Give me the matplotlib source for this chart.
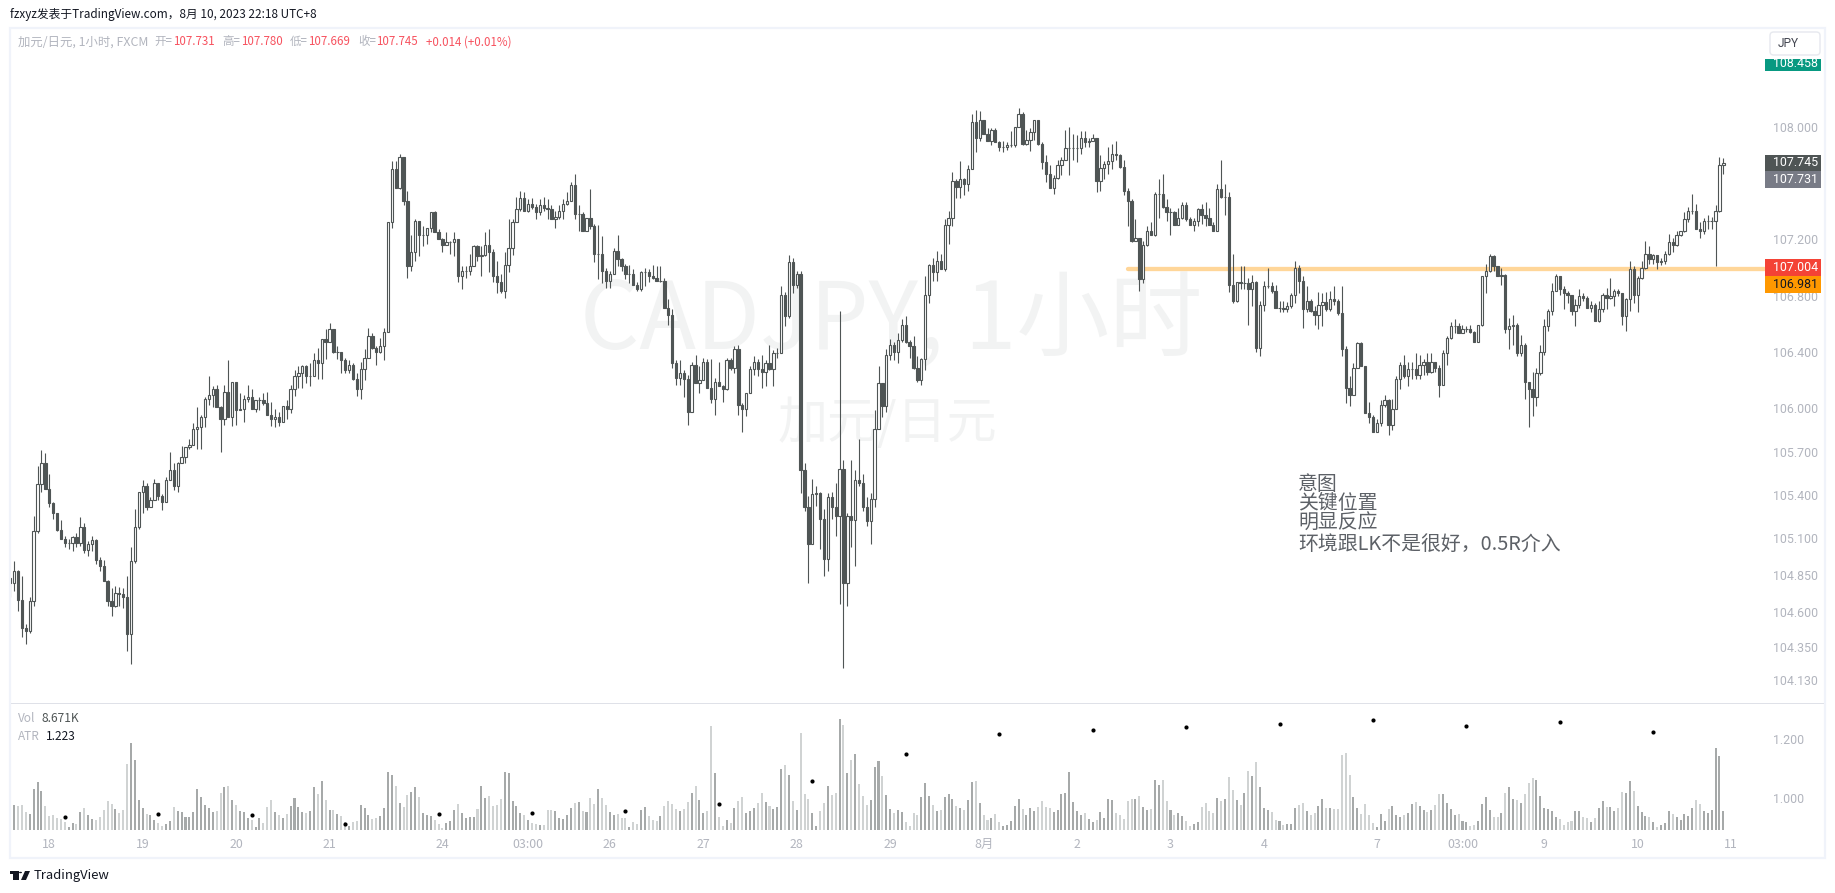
import matplotlib
matplotlib.use('Agg')
import matplotlib.pyplot as plt
from matplotlib.patches import Rectangle, FancyBboxPatch, Circle, Polygon
import numpy as np

W, H = 1835, 893
CJK = ['Noto Sans CJK SC', 'DejaVu Sans']
LATIN = ['Roboto', 'DejaVu Sans']

first_open = 104.83

closes = [
    104.80,104.88,104.68,104.48,104.46,104.67,105.16,105.49,105.64,105.46,
    105.36,105.29,105.17,105.11,105.08,105.08,105.12,105.08,105.19,105.03,
    105.07,105.10,104.96,104.92,104.81,104.67,104.64,104.73,104.72,104.70,
    104.44,104.95,105.19,105.44,105.48,105.33,105.38,105.50,105.41,105.37,
    105.52,105.59,105.48,105.64,105.68,105.75,105.77,105.88,105.89,105.96,
    106.09,106.12,106.16,106.03,105.95,106.14,105.96,106.21,106.01,106.02,
    106.09,106.10,106.02,106.08,106.08,106.06,105.98,105.95,105.96,105.93,
    106.04,106.02,106.16,106.25,106.27,106.32,106.25,106.25,106.36,106.34,
    106.51,106.49,106.58,106.42,106.42,106.36,106.29,106.33,106.23,106.16,
    106.30,106.38,106.53,106.45,106.42,106.46,106.56,107.33,107.70,107.57,
    107.79,107.48,107.02,107.12,107.34,107.24,107.24,107.29,107.40,107.26,
    107.21,107.17,107.19,107.19,107.21,106.95,106.99,106.99,107.02,107.16,
    107.09,107.10,107.17,107.12,106.95,106.91,106.85,107.03,107.15,107.33,
    107.42,107.50,107.41,107.46,107.44,107.40,107.45,107.43,107.42,107.35,
    107.37,107.41,107.46,107.48,107.59,107.39,107.39,107.27,107.36,107.30,
    107.11,107.11,106.99,106.92,106.97,107.13,107.07,107.02,106.97,106.97,
    106.89,106.86,106.98,106.98,106.95,106.94,106.92,106.92,106.73,106.68,
    106.34,106.24,106.27,106.23,106.00,106.33,106.20,106.22,106.35,106.17,
    106.09,106.21,106.18,106.16,106.36,106.31,106.44,106.05,106.02,106.13,
    106.30,106.35,106.30,106.28,106.34,106.30,106.41,106.41,106.82,106.67,
    107.05,106.89,106.97,105.59,105.33,105.07,105.42,105.43,105.25,104.97,
    105.40,105.33,105.27,105.60,104.80,105.27,105.24,105.52,105.50,105.33,
    105.23,105.39,105.88,106.20,106.04,106.40,106.47,106.42,106.50,106.61,
    106.49,106.46,106.31,106.22,106.37,106.82,107.03,106.98,107.06,107.00,
    107.31,107.36,107.62,107.58,107.63,107.60,107.70,108.03,107.92,108.05,
    107.95,107.90,107.98,107.89,107.86,107.86,107.87,107.87,108.00,108.09,
    107.88,107.91,107.96,108.05,107.88,107.75,107.67,107.57,107.64,107.73,
    107.77,107.85,107.85,107.85,107.85,107.92,107.89,107.90,107.92,107.62,
    107.71,107.74,107.76,107.81,107.80,107.72,107.55,107.48,107.20,107.22,
    106.93,107.17,107.27,107.24,107.53,107.53,107.44,107.40,107.40,107.31,
    107.36,107.45,107.35,107.31,107.34,107.42,107.38,107.36,107.31,107.27,
    107.56,107.51,107.51,106.89,106.78,106.91,106.90,106.90,106.86,106.91,
    106.45,106.75,106.88,106.88,106.85,106.73,106.73,106.72,106.74,106.82,
    107.01,106.92,106.72,106.78,106.71,106.68,106.75,106.77,106.72,106.79,
    106.78,106.69,106.44,106.17,106.12,106.31,106.48,106.32,105.99,105.96,
    105.86,105.92,106.05,106.08,105.91,106.02,106.23,106.33,106.25,106.30,
    106.30,106.26,106.33,106.35,106.28,106.35,106.31,106.19,106.41,106.52,
    106.60,106.60,106.55,106.58,106.58,106.56,106.49,106.61,106.95,106.99,
    107.09,107.02,106.95,106.96,106.58,106.60,106.61,106.41,106.47,106.21,
    106.16,106.10,106.27,106.42,106.60,106.71,106.85,106.95,106.86,106.83,
    106.82,106.71,106.75,106.81,106.80,106.73,106.75,106.64,106.72,106.82,
    106.80,106.81,106.85,106.83,106.67,106.79,107.00,106.82,106.94,107.01,
    107.11,107.07,107.10,107.05,107.06,107.11,107.19,107.17,107.24,107.27,
    107.35,107.41,107.41,107.28,107.27,107.34,107.34,107.34,107.41,107.735,107.745,
]

highs = [
    104.84,104.95,104.89,104.85,104.51,104.70,105.27,105.62,105.73,105.71,
    105.56,105.37,105.29,105.24,105.13,105.11,105.13,105.15,105.26,105.22,
    105.09,105.13,105.11,104.98,104.96,104.82,104.76,104.78,104.77,104.76,
    104.85,105.05,105.32,105.44,105.52,105.50,105.40,105.53,105.50,105.42,
    105.54,105.72,105.64,105.65,105.76,105.75,105.81,105.92,106.03,105.98,
    106.10,106.25,106.18,106.19,106.04,106.19,106.36,106.21,106.21,106.13,
    106.12,106.19,106.16,106.08,106.10,106.13,106.14,106.07,106.02,106.00,
    106.04,106.08,106.19,106.29,106.32,106.33,106.33,106.34,106.41,106.45,
    106.51,106.58,106.62,106.58,106.46,106.42,106.38,106.36,106.34,106.27,
    106.35,106.44,106.59,106.55,106.46,106.52,106.59,107.33,107.76,107.76,
    107.81,107.79,107.55,107.24,107.35,107.34,107.30,107.29,107.40,107.41,
    107.28,107.22,107.26,107.20,107.26,107.21,107.02,107.02,107.11,107.17,
    107.17,107.16,107.26,107.28,107.14,107.06,106.97,107.12,107.35,107.35,
    107.51,107.55,107.54,107.49,107.50,107.46,107.49,107.51,107.49,107.45,
    107.41,107.45,107.49,107.54,107.61,107.67,107.45,107.40,107.36,107.56,
    107.32,107.31,107.23,107.01,106.99,107.15,107.24,107.08,107.04,107.03,
    107.00,106.91,106.99,107.01,107.00,107.03,107.02,107.02,106.94,106.79,
    106.72,106.36,106.36,106.29,106.26,106.35,106.40,106.32,106.38,106.37,
    106.37,106.24,106.35,106.19,106.38,106.38,106.46,106.47,106.06,106.13,
    106.32,106.39,106.37,106.40,106.36,106.47,106.43,106.45,106.88,106.84,
    107.10,107.08,106.99,106.99,105.64,105.41,105.53,105.48,105.44,105.32,
    105.43,105.44,105.50,106.71,105.66,105.29,105.66,105.59,105.81,105.56,
    105.40,105.43,106.01,106.32,106.20,106.44,106.51,106.49,106.55,106.65,
    106.67,106.50,106.53,106.39,106.38,106.95,107.04,107.08,107.13,107.11,
    107.35,107.41,107.68,107.63,107.76,107.64,107.73,108.09,108.12,108.11,
    108.05,107.99,107.99,107.99,107.90,107.90,107.89,107.97,108.00,108.13,
    108.10,107.98,107.99,108.05,108.05,107.89,107.80,107.73,107.66,107.77,
    107.79,107.98,108.00,107.95,107.94,107.97,107.97,107.92,107.95,107.92,
    107.80,107.76,107.86,107.88,107.90,107.81,107.77,107.57,107.49,107.35,
    107.22,107.20,107.30,107.33,107.54,107.63,107.67,107.49,107.43,107.41,
    107.43,107.47,107.47,107.37,107.36,107.43,107.46,107.47,107.43,107.33,
    107.60,107.77,107.60,107.54,107.11,106.91,107.02,107.02,106.94,106.96,
    106.92,106.78,106.92,107.01,106.91,106.89,106.78,106.78,106.77,106.83,
    107.06,107.03,106.95,106.88,106.79,106.74,106.84,106.83,106.84,106.85,
    106.88,106.79,106.88,106.46,106.25,106.34,106.49,106.49,106.32,106.07,
    105.98,105.95,106.08,106.12,106.09,106.09,106.25,106.35,106.40,106.35,
    106.35,106.41,106.40,106.37,106.41,106.41,106.35,106.33,106.43,106.53,
    106.63,106.65,106.62,106.61,106.60,106.61,106.57,106.61,106.95,107.04,
    107.11,107.10,107.02,107.01,106.97,106.66,106.68,106.62,106.54,106.48,
    106.21,106.28,106.31,106.47,106.65,106.72,106.90,106.97,106.95,106.88,
    106.85,106.82,106.79,106.86,106.83,106.81,106.78,106.76,106.78,106.83,
    106.87,106.94,106.86,106.86,106.83,106.80,107.06,107.02,106.95,107.06,
    107.20,107.16,107.11,107.10,107.08,107.13,107.25,107.22,107.27,107.27,
    107.40,107.44,107.53,107.46,107.33,107.36,107.38,107.37,107.45,107.79,107.78,
]

lows = [
    104.70,104.74,104.60,104.42,104.37,104.45,104.64,105.15,105.44,105.46,
    105.33,105.25,105.16,105.11,105.05,105.04,105.02,105.05,105.06,105.01,
    104.99,105.02,104.93,104.88,104.81,104.64,104.57,104.63,104.64,104.62,
    104.32,104.23,104.94,105.18,105.29,105.31,105.33,105.38,105.38,105.31,
    105.37,105.52,105.45,105.44,105.64,105.64,105.74,105.77,105.74,105.74,
    105.89,106.05,106.03,106.03,105.72,105.91,105.96,105.90,105.91,106.01,
    105.93,106.07,106.02,106.00,106.01,106.05,105.98,105.90,105.89,105.90,
    105.93,105.95,105.99,106.11,106.17,106.17,106.20,106.18,106.25,106.23,
    106.23,106.37,106.49,106.41,106.37,106.27,106.27,106.27,106.22,106.11,
    106.09,106.22,106.38,106.44,106.33,106.41,106.36,106.56,107.29,107.57,
    107.56,107.45,106.94,106.99,107.06,107.09,107.16,107.18,107.26,107.26,
    107.21,107.12,107.17,107.11,107.09,106.91,106.86,106.94,106.96,107.02,
    107.06,106.95,107.09,106.98,106.91,106.83,106.83,106.80,106.98,107.10,
    107.33,107.41,107.41,107.40,107.42,107.35,107.38,107.41,107.35,107.35,
    107.29,107.35,107.35,107.45,107.48,107.35,107.27,107.27,107.27,107.28,
    107.05,106.93,106.90,106.87,106.87,106.97,107.02,106.99,106.93,106.90,
    106.89,106.85,106.85,106.88,106.91,106.93,106.92,106.91,106.73,106.61,
    106.31,106.19,106.19,106.10,105.91,106.00,106.20,106.13,106.22,106.17,
    106.06,105.98,106.18,106.07,106.15,106.29,106.27,105.98,105.86,105.97,
    106.13,106.26,106.25,106.17,106.18,106.29,106.18,106.38,106.41,106.60,
    106.66,106.83,106.87,105.43,105.30,104.80,105.07,105.34,105.04,104.85,
    104.88,105.25,105.13,104.65,104.20,104.64,105.05,104.92,105.48,105.30,
    105.20,105.07,105.33,105.88,105.96,106.00,106.36,106.36,106.34,106.49,
    106.48,106.38,106.30,106.21,106.19,106.29,106.76,106.92,106.92,107.00,
    106.99,107.18,107.30,107.50,107.50,107.52,107.55,107.70,107.82,107.90,
    107.95,107.90,107.87,107.89,107.83,107.82,107.84,107.86,107.86,108.00,
    107.87,107.87,107.83,107.91,107.87,107.70,107.61,107.57,107.53,107.63,
    107.66,107.77,107.66,107.77,107.75,107.81,107.86,107.86,107.90,107.54,
    107.55,107.63,107.67,107.70,107.77,107.71,107.52,107.30,107.19,107.20,
    106.85,106.90,107.16,107.24,107.23,107.36,107.43,107.34,107.24,107.31,
    107.31,107.35,107.34,107.31,107.27,107.30,107.32,107.30,107.31,107.27,
    107.27,107.50,107.38,106.84,106.76,106.77,106.86,106.86,106.61,106.74,
    106.42,106.39,106.71,106.87,106.83,106.73,106.70,106.70,106.70,106.73,
    106.76,106.83,106.59,106.70,106.70,106.61,106.58,106.60,106.71,106.71,
    106.75,106.68,106.39,106.06,106.04,106.12,106.31,106.32,105.99,105.92,
    105.86,105.86,105.90,106.03,105.84,105.87,106.02,106.16,106.24,106.18,
    106.23,106.23,106.23,106.26,106.26,106.27,106.28,106.10,106.19,106.33,
    106.51,106.55,106.55,106.55,106.56,106.55,106.49,106.49,106.60,106.83,
    106.98,106.99,106.95,106.89,106.55,106.44,106.47,106.39,106.39,106.09,
    105.89,105.97,106.04,106.26,106.40,106.57,106.68,106.85,106.82,106.72,
    106.76,106.68,106.60,106.73,106.78,106.73,106.70,106.64,106.63,106.70,
    106.72,106.79,106.74,106.81,106.61,106.57,106.71,106.76,106.70,106.93,
    107.00,107.04,107.04,107.00,107.03,107.04,107.10,107.12,107.16,107.23,
    107.26,107.33,107.39,107.28,107.22,107.25,107.28,107.28,107.02,107.40,107.67,
]

# volume in thousands
volumes = [
    7.9,11.4,11.1,11.4,8.4,7.3,18.7,21.9,17.8,10.9,
    6.4,6.8,5.3,4.9,3.8,1.2,3.0,2.7,8.2,10.0,
    6.8,5.0,4.6,6.1,9.1,13.2,11.9,9.6,7.8,9.1,
    30.1,39.7,31.9,13.7,10.0,7.3,6.8,4.6,3.0,1.8,
    2.7,4.1,10.5,8.7,8.2,5.8,5.9,8.2,18.7,15.0,
    11.4,10.0,8.2,8.7,16.9,19.6,20.1,13.7,11.4,8.7,
    8.2,5.5,4.6,1.4,5.5,3.2,10.5,13.7,8.2,6.8,
    5.5,7.3,10.9,14.6,10.5,8.2,7.9,8.7,19.6,16.4,
    22.3,13.7,9.1,9.1,7.3,6.4,3.6,1.8,3.6,4.1,
    11.4,10.0,6.8,5.0,5.5,6.4,10.0,26.4,25.1,20.1,
    12.3,10.5,16.0,17.3,19.6,15.0,7.8,6.8,6.4,4.6,
    2.7,0.9,3.2,4.1,9.1,11.9,7.8,5.5,5.9,5.9,
    9.6,20.1,14.6,15.5,10.9,11.4,14.1,26.4,26.0,13.2,
    10.9,7.8,6.8,4.6,3.2,2.7,2.3,2.3,9.1,9.1,
    8.7,5.5,5.0,6.8,10.0,12.3,12.8,8.7,8.2,14.6,
    11.9,18.7,14.6,11.4,8.2,6.8,7.3,5.5,5.5,1.4,
    3.6,2.7,9.1,10.5,6.4,4.6,4.1,6.4,10.9,13.2,
    11.9,9.6,8.7,9.6,12.8,16.9,20.1,13.7,7.8,8.7,
    47.4,26.0,5.9,1.8,4.6,3.2,10.0,13.2,15.0,7.8,
    8.7,10.0,12.3,16.9,12.8,10.9,9.6,10.5,27.8,29.6,
    25.1,13.2,9.1,44.2,16.4,14.1,7.8,1.8,8.7,12.3,
    20.1,16.0,16.9,50.6,47.9,26.0,31.9,34.7,21.0,15.5,
    11.4,13.7,28.7,31.5,24.6,16.0,9.6,7.8,9.1,8.2,
    3.6,1.8,7.8,6.8,15.0,21.4,15.5,11.4,8.7,9.1,
    15.0,16.4,14.1,10.9,10.0,9.1,13.7,21.9,22.3,12.3,
    6.8,4.6,5.5,7.3,3.6,1.8,2.3,4.1,10.9,14.1,
    9.6,6.8,10.0,8.7,10.5,13.2,10.5,10.0,8.2,9.1,
    16.4,16.9,26.4,12.8,8.7,6.8,7.8,5.0,3.6,4.6,
    8.2,5.5,14.1,13.7,7.8,6.8,5.0,13.2,14.1,14.1,
    15.5,10.5,9.1,9.6,22.8,20.5,22.8,13.2,9.1,6.8,
    7.8,6.4,4.1,1.8,2.7,3.6,10.5,12.3,8.7,7.8,
    14.6,13.2,14.1,24.2,18.2,13.7,11.4,16.9,26.9,24.6,
    31.0,19.6,10.0,9.1,8.2,4.6,4.1,2.3,2.7,2.7,
    10.0,11.4,12.3,8.7,6.8,7.8,10.9,14.1,10.0,10.0,
    9.6,9.6,34.2,35.1,25.1,15.0,10.0,7.3,11.9,6.8,
    3.2,1.4,7.3,4.1,9.6,10.9,6.8,5.9,6.8,7.8,
    11.9,12.8,10.9,9.1,8.2,9.1,11.4,16.4,16.4,12.3,
    9.6,6.8,7.3,4.1,3.6,1.8,2.3,4.1,11.9,15.0,
    9.1,5.9,5.9,7.8,16.9,19.6,14.1,13.7,12.3,16.4,
    21.4,23.7,22.8,15.5,10.0,9.6,8.7,5.9,5.0,2.3,
    3.6,4.1,8.7,8.7,5.9,5.5,3.6,5.5,10.0,13.2,
    10.5,10.5,8.7,10.0,17.3,16.9,22.3,17.8,10.9,8.2,
    6.4,5.9,3.6,1.4,2.3,3.2,8.7,7.3,5.9,4.6,
    7.3,6.4,10.0,13.7,11.9,8.7,7.8,9.1,37.4,33.7,8.67,
]

atr_bars = list(range(14, 423, 24))
atr_values = [0.936,0.946,0.942,0.912,0.946,0.949,0.954,0.980,1.058,
              1.149,1.217,1.231,1.241,1.251,1.264,1.244,1.258,1.224]

level_price = 107.00
level_start_bar = 287

# the price scale in the picture is logarithmic, ticks sit where they were read
price_tick_pos = [108.00,107.214,106.812,106.417,106.023,105.72,105.415,105.114,104.857,104.594,104.349,104.117]
price_tick_labels = ['108.000','107.200','106.800','106.400','106.000','105.700','105.400','105.100','104.850','104.600','104.350','104.130']
atr_ticks = [1.0, 1.2]

time_tick_bars = [10,34,58,82,111,133,154,178,202,226,250,274,298,322,351,373,394,418,442]
time_tick_labels = ['18','19','20','21','24','03:00','26','27','28','29','8月','2','3','4','7','03:00','9','10','11']

text_lines = ['意图', '关键位置', '明显反应', '环境跟LK不是很好，0.5R介入']

CANDLE = '#4f5555'
VOL_UP = '#a6a9a9'
VOL_DOWN = '#d0d3d3'
AXIS_TXT = '#b2b5be'
RED = '#f7525f'

closes = np.array(closes)
highs = np.array(highs)
lows = np.array(lows)
opens = np.r_[first_open, closes[:-1]]
volumes = np.array(volumes)
bars = np.arange(len(closes))
up = closes >= opens


def fx(x):
    return x / W


def fy(y):
    return 1 - y / H


def px_axes(left, top, right, bottom):
    return fig.add_axes([fx(left), fy(bottom), (right - left) / W, (bottom - top) / H])


def px_text(x, y, s, **kw):
    kw.setdefault('va', 'center')
    kw.setdefault('family', CJK)
    return fig.text(fx(x), fy(y), s, **kw)


def px_rect(left, top, right, bottom, **kw):
    r = Rectangle((fx(left), fy(bottom)), (right - left) / W, (bottom - top) / H,
                  transform=fig.transFigure, **kw)
    fig.add_artist(r)
    return r


fig = plt.figure(figsize=(W / 100, H / 100), dpi=100, facecolor='white')

xlim = (0.18, 450.7)

# price pane
ax = px_axes(11, 28, 1765, 703)
ax.set_xlim(xlim)
ax.set_ylim(103.956, 108.693)
ax.set_xticks([])
ax.yaxis.tick_right()
ax.set_yticks(price_tick_pos)
ax.set_yticklabels(price_tick_labels, family=LATIN, fontsize=8.9, color=AXIS_TXT)
ax.tick_params(axis='y', length=0, pad=5.8)
for s in ax.spines.values():
    s.set_visible(False)

px_text(891, 323, 'CADJPY, 1小时', fontsize=67, color='#f2f3f3', ha='center', zorder=0.5)
px_text(887, 424, '加元/日元', fontsize=36, color='#f2f3f3', ha='center', zorder=0.5)

ax.patch.set_alpha(0)
ax.set_zorder(2)

ax.plot([level_start_bar, xlim[1]], [level_price, level_price], color='#ffd699', lw=3.1,
        solid_capstyle='round', zorder=1)
wicks = ax.vlines(bars, lows, highs, color=CANDLE, lw=0.8, zorder=2)
wicks.set_snap(True)
body_low = np.minimum(opens, closes)
body_h = np.abs(closes - opens)
ax.bar(bars, body_h, bottom=body_low, width=0.6,
       color=[('white' if u else CANDLE) for u in up],
       edgecolor=CANDLE, linewidth=0.8, zorder=3)

# volume pane
vol_ax = px_axes(11, 704, 1765, 830)
vol_ax.set_xlim(xlim)
vol_ax.set_ylim(0, 57.5)
vol_ax.bar(bars, volumes, width=0.52, color=[(VOL_UP if u else VOL_DOWN) for u in up], linewidth=0)
vol_ax.set_yticks([])
vol_ax.set_xticks(time_tick_bars)
vol_ax.set_xticklabels(time_tick_labels, family=CJK, fontsize=8.9, color=AXIS_TXT)
vol_ax.tick_params(axis='x', length=0, pad=5.6)
vol_ax.set_xlim(xlim)
for s in vol_ax.spines.values():
    s.set_visible(False)
vol_ax.patch.set_alpha(0)
vol_ax.set_zorder(2)

atr_ax = vol_ax.twinx()
atr_ax.set_ylim(0.8905, 1.3176)
atr_ax.plot(atr_bars, atr_values, ls='none', marker='o', ms=3, color='black', mew=0)
atr_ax.set_yticks(atr_ticks)
atr_ax.set_yticklabels(['1.000', '1.200'], family=LATIN, fontsize=8.9, color=AXIS_TXT)
atr_ax.tick_params(axis='y', length=0, pad=5.8)
for s in atr_ax.spines.values():
    s.set_visible(False)
atr_ax.set_zorder(3)

# chart frame and pane separator
px_rect(10, 27.5, 1825, 858, fill=False, edgecolor='#f0f3fa', lw=1.6, zorder=1)
px_rect(11, 702.6, 1824, 703.8, facecolor='#dfe1e8', edgecolor='none', zorder=1)

# price labels on the scale
px_rect(1765, 59, 1821, 71, facecolor='#089981', edgecolor='none', zorder=4)
px_text(1773, 63.5, '108.458', family=LATIN, fontsize=8.9, color='white', zorder=4.5)
px_rect(1765, 154.5, 1821, 171, facecolor='#4f5555', edgecolor='none', zorder=4)
px_text(1773, 162.7, '107.745', family=LATIN, fontsize=8.9, color='white', zorder=4.5)
px_rect(1765, 171, 1821, 188, facecolor='#787b86', edgecolor='none', zorder=4)
px_text(1773, 179.5, '107.731', family=LATIN, fontsize=8.9, color='white', zorder=4.5)
px_rect(1765, 259, 1821, 276, facecolor='#f44336', edgecolor='none', zorder=4)
px_text(1773, 267.5, '107.004', family=LATIN, fontsize=8.9, color='white', zorder=4.5)
px_rect(1765, 276, 1821, 293, facecolor='#ff9800', edgecolor='none', zorder=4)
px_text(1773, 284.5, '106.981', family=LATIN, fontsize=8.9, color='#131722', zorder=4.5)

# JPY button
fig.add_artist(FancyBboxPatch((fx(1770), fy(55)), 50 / W, 23 / H,
                              boxstyle='round,pad=0,rounding_size=0.002',
                              mutation_aspect=2, transform=fig.transFigure,
                              facecolor='white', edgecolor='#e6e8ee', lw=1, zorder=5))
px_text(1778, 43.5, 'JPY', family=LATIN, fontsize=8.6, color='#434651', zorder=6)

# header
px_text(10, 14.8, 'fzxyz发表于TradingView.com，8月 10, 2023 22:18 UTC+8', fontsize=8.45, color='#131722')
px_text(18, 41.7, '加元/日元, 1小时, FXCM', fontsize=8.9, color=AXIS_TXT)
for lx, vx, name, val in [(154, 173, '开=', '107.731'), (222, 241, '高=', '107.780'),
                          (290, 308, '低=', '107.669'), (358, 376, '收=', '107.745')]:
    px_text(lx, 41.7, name, fontsize=8.3, color=AXIS_TXT)
    px_text(vx, 41.7, val, fontsize=8.3, color=RED)
px_text(426, 41.7, '+0.014 (+0.01%)', fontsize=8.3, color=RED)

# pane legend
px_text(18, 719, 'Vol', fontsize=8.5, color=AXIS_TXT)
px_text(41.5, 719, '8.671K', fontsize=8.6, color='#4f5555')
px_text(18, 736, 'ATR', fontsize=8.5, color=AXIS_TXT)
px_text(45.5, 736, '1.223', fontsize=8.6, color='#131722')

# note on the chart
for y, line in zip([484, 503.5, 523.5, 544], text_lines):
    px_text(1298, y, line, fontsize=14.3, color='#5d6167', zorder=4)

# logo and footer
px_rect(10, 871, 18.5, 874, facecolor='#131722', edgecolor='none')
px_rect(13, 871, 18.5, 880, facecolor='#131722', edgecolor='none')
fig.add_artist(Circle((fx(20.5), fy(872.5)), 1.5 / W, transform=fig.transFigure, facecolor='#131722', edgecolor='none'))
fig.add_artist(Polygon([(fx(25), fy(871)), (fx(30), fy(871)), (fx(26), fy(880)), (fx(21), fy(880))],
                       transform=fig.transFigure, facecolor='#131722', edgecolor='none'))
px_text(33.5, 875, 'TradingView', fontsize=9.4, color='#131722')

fig.savefig('out.png', dpi=100)
